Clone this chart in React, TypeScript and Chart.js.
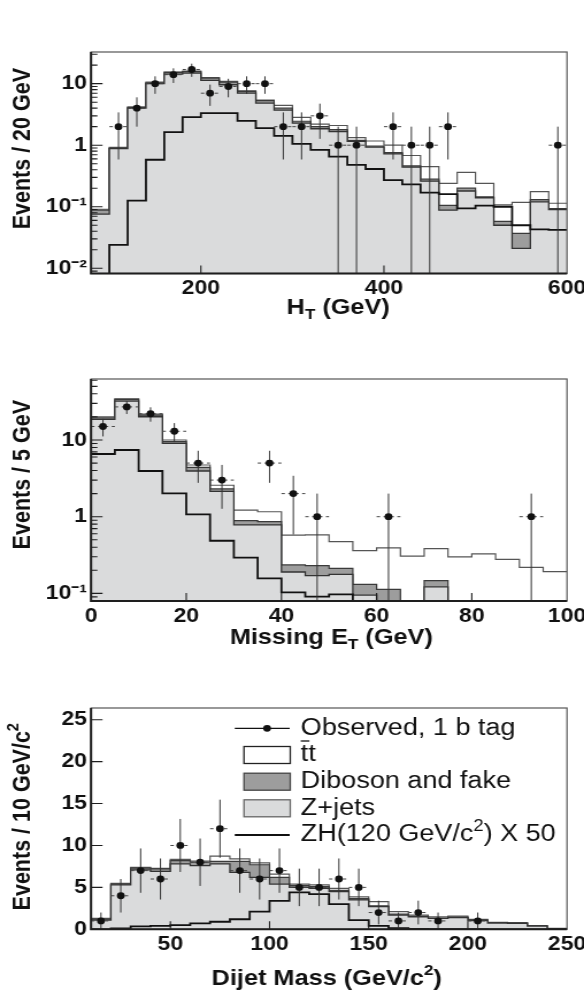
import React, { useEffect, useRef } from 'react';
import { Chart, registerables } from 'chart.js';

Chart.register(...registerables);

// ---------------- Panel 1: H_T (20 GeV bins from 80 GeV) ----------------
const htBinStart = 80;
const htBinWidth = 20;
const htZjets = [0.076, 0.88, 4.0, 10.0, 14.3, 14.8, 11.3, 9.6, 7.0, 4.83, 3.71, 2.28, 1.85, 1.67, 1.15, 0.93, 0.72, 0.44, 0.26, 0.088, 0.18, 0.14, 0.05, 0.021, 0.12, 0.09];
const htDiboson = [0.012, 0.02, 0.1, 0.3, 0.9, 0.9, 1.0, 1.0, 0.5, 0.47, 0.29, 0.17, 0.15, 0.13, 0.05, 0.04, 0.04, 0.02, 0.02, 0.017, 0.02, 0.005, 0.008, 0.016, 0.01, 0.003];
const htTtbar = [0.003, 0.02, 0.1, 0.3, 0.2, 0.3, 0.3, 0.3, 0.16, 0.1, 0.43, 0.38, 0.2, 0.29, 0.13, 0.2, 0.24, 0.22, 0.17, 0.135, 0.163, 0.095, 0.049, 0.081, 0.046, 0.021];
const htSignal = [0.001, 0.024, 0.126, 0.58, 1.63, 2.86, 3.32, 3.32, 2.49, 1.89, 1.42, 1.05, 0.84, 0.65, 0.48, 0.41, 0.27, 0.23, 0.17, 0.16, 0.094, 0.104, 0.1, 0.05, 0.043, 0.042];
const htObserved = [0, 2, 4, 10, 14, 17, 7, 9, 10, 10, 2, 2, 3, 1, 1, 0, 2, 1, 1, 2, 0, 0, 0, 0, 0, 1];
const htXTicks = [200, 400, 600];
const htYTicks = [0.01, 0.1, 1, 10];

// ---------------- Panel 2: Missing E_T (5 GeV bins from 0) ----------------
const metBinStart = 0;
const metBinWidth = 5;
const metZjets = [18.6, 32.2, 20.1, 9.05, 3.94, 2.14, 0.78, 0.78, 0.19, 0.17, 0.177, 0.095, 0, 0, 0.122, 0, 0, 0, 0, 0];
const metDiboson = [0.8, 1.6, 1.0, 0.5, 0.46, 0.16, 0.11, 0.08, 0.045, 0.06, 0.035, 0.036, 0.113, 0, 0.025, 0, 0, 0, 0, 0];
const metTtbar = [0.7, 0.5, 0.7, 0.45, 0.32, 0.27, 0.33, 0.3, 0.34, 0.35, 0.26, 0.23, 0.28, 0.307, 0.236, 0.3, 0.327, 0.278, 0.219, 0.192];
const metSignal = [6.57, 7.4, 3.94, 2.02, 1.07, 0.486, 0.292, 0.157, 0.103, 0.091, 0.097, 0, 0, 0, 0, 0, 0, 0, 0, 0];
const metObserved = [15, 27, 22, 13, 5, 3, 0, 5, 2, 1, 0, 0, 1, 0, 0, 0, 0, 0, 1, 0];
const metXTicks = [0, 20, 40, 60, 80, 100];
const metYTicks = [0.1, 1, 10];

// ---------------- Panel 3: Dijet mass (10 GeV/c^2 bins from 10) ----------------
const mjjBinStart = 10;
const mjjBinWidth = 10;
const mjjZjets = [1.1, 5.3, 7.1, 6.9, 7.8, 7.6, 7.8, 6.8, 6.2, 5.4, 5.0, 4.9, 4.5, 3.5, 2.7, 1.7, 1.5, 1.3, 1.4, 1.05, 0.75, 0.7, 0.38, 0.08];
const mjjDiboson = [0.1, 0.1, 0.2, 0.3, 0.4, 0.4, 0.3, 1.3, 1.5, 0.8, 0.2, 0.2, 0.15, 0.15, 0.1, 0.1, 0.05, 0.05, 0.05, 0.05, 0.03, 0.03, 0.02, 0.01];
const mjjTtbar = [0.1, 0.08, 0.08, 0.06, 0.13, 0.13, 0.63, 0.31, 0.23, 0.38, 0.19, 0.2, 0.23, 0.23, 0.49, 0.3, 0.15, 0.15, 0.12, 0.09, 0.05, 0.07, 0.03, 0.01];
const mjjSignal = [0, 0.1, 0.35, 0.4, 0.5, 0.7, 0.9, 1.2, 2.1, 3.4, 4.4, 4.2, 3.0, 1.1, 0.4, 0.15, 0.05, 0.03, 0.02, 0.01, 0, 0, 0, 0];
const mjjObserved = [1, 4, 7, 6, 10, 8, 12, 7, 6, 7, 5, 5, 6, 5, 2, 1, 2, 1, 0, 1, 0, 0, 0, 0];
const mjjXTicks = [50, 100, 150, 200, 250];
const mjjYTicks = [0, 5, 10, 15, 20, 25];

// ---------------- Legend ----------------
const legendObserved = 'Observed, 1 b tag';
const legendTtbar = 'tt';
const legendDiboson = 'Diboson and fake';
const legendZjets = 'Z+jets';
const legendSignal = 'ZH(120 GeV/c';
const legendSignalSup = '2';
const legendSignalEnd = ') X 50';

// ---------------- layout / style ----------------
const CSS_W = 584;
const CW = 508; // drawing width; figure is stretched horizontally to CSS_W
const AREA_LEFT = 79.2;
const AREA_RIGHT = 493.2;
const FONT = '"Liberation Sans", Arial, Helvetica, sans-serif';
const C_ZJ = '#dadbdc';
const C_DB = '#9d9d9d';
const C_TT = '#ffffff';

type Part = { t: string; sub?: boolean; sup?: boolean };

interface Panel {
  start: number; width: number;
  zjets: number[]; diboson: number[]; ttbar: number[]; signal: number[]; observed: number[];
  log: boolean; xMin: number; xMax: number; yMin: number; yMax: number;
  xTicks: number[]; yTicks: number[];
  canvasH: number; areaTop: number; areaBottom: number;
  yTitle: Part[]; yTitleGap: number; xTitle: Part[]; xTitleX: number; xTitleY: number;
  legend: boolean;
}

const panels: Panel[] = [
  {
    start: htBinStart, width: htBinWidth, zjets: htZjets, diboson: htDiboson, ttbar: htTtbar, signal: htSignal, observed: htObserved,
    log: true, xMin: 80, xMax: 600, yMin: 0.00822, yMax: 32.7, xTicks: htXTicks, yTicks: htYTicks,
    canvasH: 335, areaTop: 52, areaBottom: 273.5,
    yTitle: [{ t: 'Events / 20 GeV' }], yTitleGap: 16,
    xTitle: [{ t: 'H' }, { t: 'T', sub: true }, { t: ' (GeV)' }], xTitleX: 8, xTitleY: 308, legend: false,
  },
  {
    start: metBinStart, width: metBinWidth, zjets: metZjets, diboson: metDiboson, ttbar: metTtbar, signal: metSignal, observed: metObserved,
    log: true, xMin: 0, xMax: 100, yMin: 0.0796, yMax: 62.4, xTicks: metXTicks, yTicks: metYTicks,
    canvasH: 335, areaTop: 44, areaBottom: 266,
    yTitle: [{ t: 'Events / 5 GeV' }], yTitleGap: 21,
    xTitle: [{ t: 'Missing E' }, { t: 'T', sub: true }, { t: ' (GeV)' }], xTitleX: 2, xTitleY: 303, legend: false,
  },
  {
    start: mjjBinStart, width: mjjBinWidth, zjets: mjjZjets, diboson: mjjDiboson, ttbar: mjjTtbar, signal: mjjSignal, observed: mjjObserved,
    log: false, xMin: 10, xMax: 250, yMin: 0, yMax: 26.4, xTicks: mjjXTicks, yTicks: mjjYTicks,
    canvasH: 335, areaTop: 38, areaBottom: 259.3,
    yTitle: [{ t: 'Events / 10 GeV/c' }, { t: '2', sup: true }], yTitleGap: 15,
    xTitle: [{ t: 'Dijet Mass (GeV/c' }, { t: '2', sup: true }, { t: ')' }], xTitleX: -2, xTitleY: 309, legend: true,
  },
];

// ---------------- helpers ----------------
function stepPoints(start: number, width: number, vals: number[], floor: number) {
  const pts = vals.map((v, i) => ({ x: start + i * width, y: Math.max(v, floor) }));
  pts.push({ x: start + vals.length * width, y: Math.max(vals[vals.length - 1], floor) });
  return pts;
}
function sumArrays(...arrs: number[][]) {
  return arrs[0].map((_, i) => arrs.reduce((s, a) => s + a[i], 0));
}
function obsPoints(start: number, width: number, obs: number[]) {
  const pts: { x: number; y: number }[] = [];
  obs.forEach((n, i) => { if (n > 0) pts.push({ x: start + (i + 0.5) * width, y: n }); });
  return pts;
}
function vErrors(start: number, width: number, obs: number[], floor: number) {
  const pts: { x: number; y: number | null }[] = [];
  obs.forEach((n, i) => {
    if (n <= 0) return;
    const c = start + (i + 0.5) * width;
    const e = Math.sqrt(n);
    pts.push({ x: c, y: Math.max(n - e, floor) }, { x: c, y: n + e }, { x: c, y: null });
  });
  return pts;
}
function hErrors(start: number, width: number, obs: number[]) {
  const pts: { x: number; y: number | null }[] = [];
  obs.forEach((n, i) => {
    if (n <= 0) return;
    const lo = start + i * width;
    pts.push({ x: lo, y: n }, { x: lo + width, y: n }, { x: lo + width, y: null });
  });
  return pts;
}
const SUP: Record<string, string> = { '-': '\u207B', '0': '\u2070', '1': '\u00B9', '2': '\u00B2', '3': '\u00B3' };
function logLabel(v: number) {
  const e = Math.round(Math.log10(v));
  if (e === 0) return '1';
  if (e === 1) return '10';
  return '10' + String(e).split('').map((c) => SUP[c] || c).join('');
}

function drawParts(ctx: CanvasRenderingContext2D, parts: Part[], x: number, y: number, size: number, weight: string, align: string) {
  const fontFor = (p: Part) => `${weight} ${p.sub || p.sup ? size * 0.68 : size}px ${FONT}`;
  let w = 0;
  parts.forEach((p) => { ctx.font = fontFor(p); w += ctx.measureText(p.t).width; });
  let cx = align === 'center' ? x - w / 2 : align === 'right' ? x - w : x;
  ctx.textAlign = 'left';
  ctx.textBaseline = 'middle';
  parts.forEach((p) => {
    ctx.font = fontFor(p);
    const dy = p.sub ? size * 0.3 : p.sup ? -size * 0.36 : 0;
    ctx.fillText(p.t, cx, y + dy);
    cx += ctx.measureText(p.t).width;
  });
}

function decorPlugin(p: Panel) {
  return {
    id: 'decor',
    afterDatasetsDraw(chart: any) {
      const { ctx, chartArea: a } = chart;
      const xs = chart.scales.x;
      const ys = chart.scales.y;
      ctx.save();
      ctx.strokeStyle = '#1e1e1e';
      ctx.lineWidth = 1.1;
      ctx.beginPath();
      p.xTicks.forEach((v) => {
        const px = xs.getPixelForValue(v);
        if (px > a.left + 1 && px < a.right - 1) { ctx.moveTo(px, a.bottom); ctx.lineTo(px, a.bottom - 8); }
      });
      p.yTicks.forEach((v) => {
        const py = ys.getPixelForValue(v);
        ctx.moveTo(a.left, py); ctx.lineTo(a.left + 10, py);
      });
      if (p.log) {
        for (let d = -4; d <= 2; d++) {
          for (let k = 2; k <= 9; k++) {
            const v = k * Math.pow(10, d);
            if (v > p.yMin && v < p.yMax) {
              const py = ys.getPixelForValue(v);
              ctx.moveTo(a.left, py); ctx.lineTo(a.left + 5.5, py);
            }
          }
        }
      }
      ctx.stroke();
      ctx.strokeStyle = '#555';
      ctx.lineWidth = 1.2;
      ctx.strokeRect(a.left, a.top, a.right - a.left, a.bottom - a.top);
      ctx.strokeStyle = '#1e1e1e';
      ctx.lineWidth = 2;
      ctx.beginPath();
      ctx.moveTo(a.left, a.top);
      ctx.lineTo(a.left, a.bottom);
      ctx.lineTo(a.right, a.bottom);
      ctx.stroke();
      ctx.restore();
    },
    afterDraw(chart: any) {
      const { ctx, chartArea: a } = chart;
      ctx.save();
      ctx.fillStyle = '#111';
      // x title
      drawParts(ctx, p.xTitle, (a.left + a.right) / 2 + p.xTitleX, p.xTitleY, 22, 'bold', 'center');
      // y title (rotated, right-aligned at the top end of the axis)
      ctx.save();
      ctx.translate(20, a.top + p.yTitleGap);
      ctx.rotate(-Math.PI / 2);
      drawParts(ctx, p.yTitle, 0, 0, 21.5, 'bold', 'right');
      ctx.restore();

      if (p.legend) {
        const rows = [20.3, 47, 73.7, 100.3, 127].map((r) => a.top + r);
        const lx0 = 204.2, lx1 = 252.0, bx0 = 212.2, bx1 = 252.5, tx = 261.6, bh = 17;
        // observed
        ctx.strokeStyle = '#111'; ctx.lineWidth = 1.2;
        ctx.beginPath(); ctx.moveTo(lx0, rows[0]); ctx.lineTo(lx1, rows[0]); ctx.stroke();
        ctx.beginPath(); ctx.arc(232.3, rows[0], 3.4, 0, Math.PI * 2); ctx.fill();
        // boxes
        const box = (row: number, fill: string, stroke: string) => {
          ctx.fillStyle = fill; ctx.fillRect(bx0, row - bh / 2, bx1 - bx0, bh);
          ctx.strokeStyle = stroke; ctx.lineWidth = 1.3; ctx.strokeRect(bx0, row - bh / 2, bx1 - bx0, bh);
        };
        box(rows[1], C_TT, '#222');
        box(rows[2], C_DB, '#444');
        box(rows[3], C_ZJ, '#666');
        // signal
        ctx.strokeStyle = '#111'; ctx.lineWidth = 1.8;
        ctx.beginPath(); ctx.moveTo(lx0, rows[4]); ctx.lineTo(lx1, rows[4]); ctx.stroke();
        // texts
        ctx.fillStyle = '#111';
        ctx.font = `23.5px ${FONT}`;
        ctx.textAlign = 'left'; ctx.textBaseline = 'middle';
        ctx.fillText(legendObserved, tx, rows[0]);
        ctx.fillText(legendTtbar, tx, rows[1]);
        const tw = ctx.measureText('t').width;
        ctx.strokeStyle = '#111'; ctx.lineWidth = 1.3;
        ctx.beginPath(); ctx.moveTo(tx, rows[1] - 14); ctx.lineTo(tx + tw + 1, rows[1] - 14); ctx.stroke();
        ctx.fillText(legendDiboson, tx, rows[2]);
        ctx.fillText(legendZjets, tx, rows[3]);
        drawParts(ctx, [{ t: legendSignal }, { t: legendSignalSup, sup: true }, { t: legendSignalEnd }], tx, rows[4], 23.5, 'normal', 'left');
      }
      ctx.restore();
    },
  };
}

function makeConfig(p: Panel): any {
  const floor = p.log ? p.yMin * 1e-3 : 0;
  const dibTop = sumArrays(p.zjets, p.diboson);
  const total = sumArrays(p.zjets, p.diboson, p.ttbar);
  const tickFont = { family: FONT, size: 20, weight: 'bold' as const };
  return {
    type: 'line',
    data: {
      datasets: [
        { label: 'Observed', data: obsPoints(p.start, p.width, p.observed), showLine: false, pointRadius: 3.4, pointBackgroundColor: '#111', pointBorderColor: '#111', pointBorderWidth: 0, order: 0 },
        { label: 'xerr', data: hErrors(p.start, p.width, p.observed), borderColor: '#444', borderWidth: 1, borderDash: [3, 3], pointRadius: 0, spanGaps: false, fill: false, order: 1 },
        { label: 'yerr', data: vErrors(p.start, p.width, p.observed, floor), borderColor: '#333', borderWidth: 1, pointRadius: 0, spanGaps: false, fill: false, order: 2 },
        { label: 'ZH', data: stepPoints(p.start, p.width, p.signal, floor), stepped: true, borderColor: '#111', borderWidth: 1.8, pointRadius: 0, fill: false, order: 3 },
        { label: 'Z+jets', data: stepPoints(p.start, p.width, p.zjets, floor), stepped: true, borderColor: '#333', borderWidth: 1.3, pointRadius: 0, fill: 'start', backgroundColor: C_ZJ, order: 4 },
        { label: 'Diboson', data: stepPoints(p.start, p.width, dibTop, floor), stepped: true, borderColor: '#3a3a3a', borderWidth: 1.2, pointRadius: 0, fill: 'start', backgroundColor: C_DB, order: 5 },
        { label: 'ttbar', data: stepPoints(p.start, p.width, total, floor), stepped: true, borderColor: '#555', borderWidth: 1.2, pointRadius: 0, fill: 'start', backgroundColor: C_TT, order: 6 },
      ],
    },
    options: {
      animation: false,
      responsive: false,
      maintainAspectRatio: false,
      devicePixelRatio: 1,
      events: [],
      layout: { padding: { top: p.areaTop, right: CW - AREA_RIGHT, bottom: 0, left: 0 } },
      plugins: { legend: { display: false }, tooltip: { enabled: false }, title: { display: false } },
      elements: { line: { tension: 0 }, point: { radius: 0 } },
      scales: {
        x: {
          type: 'linear', min: p.xMin, max: p.xMax, bounds: 'data',
          afterBuildTicks: (s: any) => { s.ticks = p.xTicks.map((v) => ({ value: v })); },
          afterFit: (s: any) => { s.height = p.canvasH - p.areaBottom; s.paddingLeft = 0; s.paddingRight = 0; },
          ticks: { autoSkip: false, maxRotation: 0, minRotation: 0, padding: 3, color: '#111', font: tickFont, callback: (v: number) => String(v) },
          grid: { display: false, drawTicks: false },
          border: { display: false },
        },
        y: {
          type: p.log ? 'logarithmic' : 'linear', min: p.yMin, max: p.yMax, bounds: 'data',
          afterBuildTicks: (s: any) => { s.ticks = p.yTicks.map((v) => ({ value: v })); },
          afterFit: (s: any) => { s.width = AREA_LEFT; s.paddingTop = 0; s.paddingBottom = 0; },
          ticks: { autoSkip: false, padding: 3.5, color: '#111', font: tickFont, callback: (v: number) => (p.log ? logLabel(v) : String(v)) },
          grid: { display: false, drawTicks: false },
          border: { display: false },
        },
      },
    },
    plugins: [decorPlugin(p)],
  };
}

function PanelChart({ panel }: { panel: Panel }) {
  const ref = useRef<HTMLCanvasElement>(null);
  useEffect(() => {
    const chart = new Chart(ref.current as HTMLCanvasElement, makeConfig(panel));
    return () => chart.destroy();
  }, [panel]);
  return (
    <canvas
      ref={ref}
      width={CW}
      height={panel.canvasH}
      style={{ display: 'block', width: CSS_W + 'px', height: panel.canvasH + 'px' }}
    />
  );
}

export default function App() {
  return (
    <div style={{ position: 'absolute', left: 0, top: 0, width: CSS_W, background: '#fff' }}>
      {panels.map((p, i) => (
        <PanelChart key={i} panel={p} />
      ))}
    </div>
  );
}
